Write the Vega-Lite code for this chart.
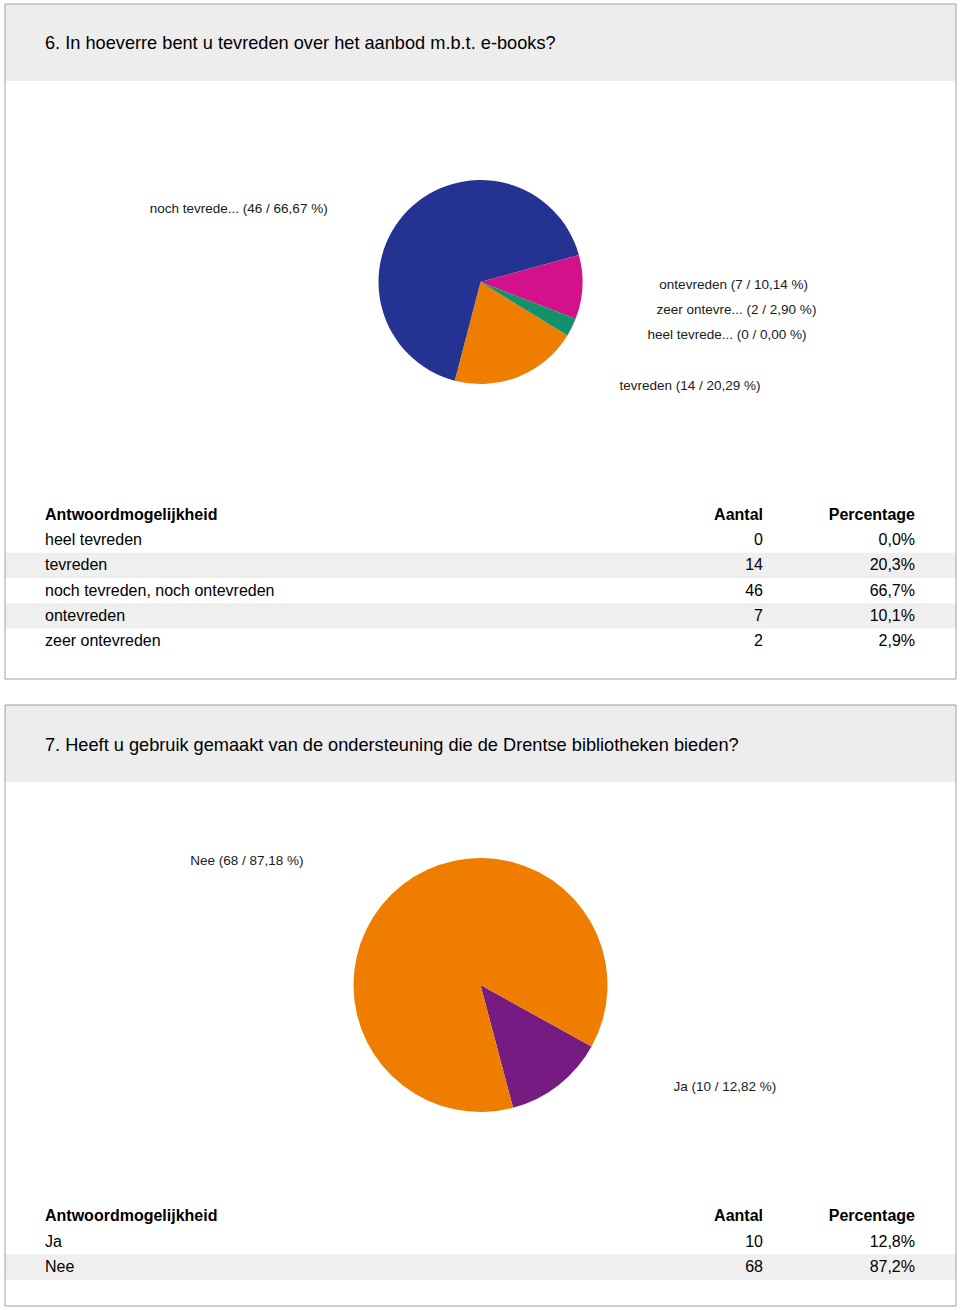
{
  "$schema": "https://vega.github.io/schema/vega-lite/v6.json",
  "padding": {"left": 4, "top": 3, "right": 0, "bottom": 0},
  "background": "white",
  "config": {"view": {"stroke": null}, "font": "Liberation Sans", "text": {"font": "Liberation Sans"}},
  "datasets": {
    "q6": [
      {"row": 1, "antwoord": "heel tevreden", "aantal": 0, "percentage": "0,0%", "pielabel": "heel tevrede... (0 / 0,00 %)"},
      {"row": 2, "antwoord": "tevreden", "aantal": 14, "percentage": "20,3%", "pielabel": "tevreden (14 / 20,29 %)"},
      {"row": 3, "antwoord": "noch tevreden, noch ontevreden", "aantal": 46, "percentage": "66,7%", "pielabel": "noch tevrede... (46 / 66,67 %)"},
      {"row": 4, "antwoord": "ontevreden", "aantal": 7, "percentage": "10,1%", "pielabel": "ontevreden (7 / 10,14 %)"},
      {"row": 5, "antwoord": "zeer ontevreden", "aantal": 2, "percentage": "2,9%", "pielabel": "zeer ontevre... (2 / 2,90 %)"}
    ],
    "q7": [
      {"row": 1, "antwoord": "Ja", "aantal": 10, "percentage": "12,8%", "pielabel": "Ja (10 / 12,82 %)"},
      {"row": 2, "antwoord": "Nee", "aantal": 68, "percentage": "87,2%", "pielabel": "Nee (68 / 87,18 %)"}
    ],
    "header": [{"row": 0, "antwoord": "Antwoordmogelijkheid", "aantal": "Aantal", "percentage": "Percentage"}],
    "one": [{}]
  },
  "spacing": 24,
  "resolve": {"scale": {"color": "independent", "theta": "independent", "y": "independent", "x": "independent"}},
  "vconcat": [
    {
      "spacing": 0,
      "bounds": "flush",
      "resolve": {"scale": {"color": "independent", "theta": "independent", "y": "independent", "x": "independent"}},
      "vconcat": [
        {
          "width": 951, "height": 77,
          "view": {"fill": "#ededed"},
          "data": {"values": [{"t": "6. In hoeverre bent u tevreden over het aanbod m.b.t. e-books?"}]},
          "layer": [
            {"mark": {"type": "text", "align": "left", "baseline": "middle", "fontSize": 18.2, "color": "#000000"},
             "encoding": {"text": {"field": "t", "type": "nominal"}, "x": {"value": 40}, "y": {"value": 40}}},
            {"data": {"name": "one"}, "mark": {"type": "rule", "color": "#a0a0a0"}, "encoding": {"x": {"value": 0}, "y": {"value": 0}, "y2": {"value": "height"}}},
            {"data": {"name": "one"}, "mark": {"type": "rule", "color": "#a0a0a0"}, "encoding": {"x": {"value": "width"}, "y": {"value": 0}, "y2": {"value": "height"}}},
            {"data": {"name": "one"}, "mark": {"type": "rule", "color": "#a0a0a0"}, "encoding": {"x": {"value": 0}, "x2": {"value": "width"}, "y": {"value": 0}}}
          ]
        },
        {
          "width": 951, "height": 402,
          "layer": [
            {"data": {"name": "q6"}, "mark": {"type": "arc", "outerRadius": 102},
             "encoding": {
               "theta": {"field": "aantal", "type": "quantitative", "stack": true, "scale": {"range": [2.122, 8.405]}},
               "order": {"field": "row", "type": "quantitative"},
               "color": {"field": "antwoord", "type": "nominal", "legend": null,
                 "scale": {"domain": ["heel tevreden", "tevreden", "noch tevreden, noch ontevreden", "ontevreden", "zeer ontevreden"],
                           "range": ["#7fa7d6", "#ef7d00", "#243392", "#d3118a", "#12916a"]}}}},
            {"data": {"name": "q6"}, "mark": {"type": "text", "radius": 115, "align": "left", "baseline": "middle", "fontSize": 13.5, "color": "#1a1a1a", "dx": 64, "dy": -3},
             "encoding": {"theta": {"field": "aantal", "type": "quantitative", "stack": true}, "order": {"field": "row", "type": "quantitative"},
               "text": {"condition": {"test": "datum.row == 4", "field": "pielabel", "type": "nominal"}, "value": ""}}},
            {"data": {"name": "q6"}, "mark": {"type": "text", "radius": 115, "align": "left", "baseline": "middle", "fontSize": 13.5, "color": "#1a1a1a", "dx": 73, "dy": -23},
             "encoding": {"theta": {"field": "aantal", "type": "quantitative", "stack": true}, "order": {"field": "row", "type": "quantitative"},
               "text": {"condition": {"test": "datum.row == 5", "field": "pielabel", "type": "nominal"}, "value": ""}}},
            {"data": {"name": "q6"}, "mark": {"type": "text", "radius": 115, "align": "left", "baseline": "middle", "fontSize": 13.5, "color": "#1a1a1a", "dx": 69, "dy": -7},
             "encoding": {"theta": {"field": "aantal", "type": "quantitative", "stack": true}, "order": {"field": "row", "type": "quantitative"},
               "text": {"condition": {"test": "datum.row == 1", "field": "pielabel", "type": "nominal"}, "value": ""}}},
            {"data": {"name": "q6"}, "mark": {"type": "text", "radius": 115, "align": "left", "baseline": "middle", "fontSize": 13.5, "color": "#1a1a1a", "dx": 96, "dy": -3},
             "encoding": {"theta": {"field": "aantal", "type": "quantitative", "stack": true}, "order": {"field": "row", "type": "quantitative"},
               "text": {"condition": {"test": "datum.row == 2", "field": "pielabel", "type": "nominal"}, "value": ""}}},
            {"data": {"name": "q6"}, "mark": {"type": "text", "radius": 115, "align": "right", "baseline": "middle", "fontSize": 13.5, "color": "#1a1a1a", "dx": -71, "dy": 8},
             "encoding": {"theta": {"field": "aantal", "type": "quantitative", "stack": true}, "order": {"field": "row", "type": "quantitative"},
               "text": {"condition": {"test": "datum.row == 3", "field": "pielabel", "type": "nominal"}, "value": ""}}},
            {"data": {"name": "one"}, "mark": {"type": "rule", "color": "#a0a0a0"}, "encoding": {"x": {"value": 0}, "y": {"value": 0}, "y2": {"value": "height"}}},
            {"data": {"name": "one"}, "mark": {"type": "rule", "color": "#a0a0a0"}, "encoding": {"x": {"value": "width"}, "y": {"value": 0}, "y2": {"value": "height"}}}
          ]
        },
        {
          "width": 951, "height": 196,
          "layer": [
            {"data": {"name": "q6"}, "transform": [{"filter": "datum.row % 2 == 0"}], "mark": {"type": "rect", "color": "#efefef"},
             "encoding": {"y": {"field": "row", "type": "ordinal", "axis": null, "scale": {"type": "band", "domain": [0, 1, 2, 3, 4, 5], "range": [19.4, 170.6], "paddingInner": 0, "paddingOuter": 0}}}},
            {"data": {"name": "header"}, "mark": {"type": "text", "align": "left", "baseline": "middle", "fontSize": 16, "fontWeight": "bold", "color": "#000000"},
             "encoding": {"y": {"field": "row", "type": "ordinal", "axis": null}, "x": {"value": 40}, "text": {"field": "antwoord", "type": "nominal"}}},
            {"data": {"name": "header"}, "mark": {"type": "text", "align": "right", "baseline": "middle", "fontSize": 16, "fontWeight": "bold", "color": "#000000"},
             "encoding": {"y": {"field": "row", "type": "ordinal", "axis": null}, "x": {"value": 758}, "text": {"field": "aantal", "type": "nominal"}}},
            {"data": {"name": "header"}, "mark": {"type": "text", "align": "right", "baseline": "middle", "fontSize": 16, "fontWeight": "bold", "color": "#000000"},
             "encoding": {"y": {"field": "row", "type": "ordinal", "axis": null}, "x": {"value": 910}, "text": {"field": "percentage", "type": "nominal"}}},
            {"data": {"name": "q6"}, "mark": {"type": "text", "align": "left", "baseline": "middle", "fontSize": 16, "color": "#000000"},
             "encoding": {"y": {"field": "row", "type": "ordinal", "axis": null}, "x": {"value": 40}, "text": {"field": "antwoord", "type": "nominal"}}},
            {"data": {"name": "q6"}, "mark": {"type": "text", "align": "right", "baseline": "middle", "fontSize": 16, "color": "#000000"},
             "encoding": {"y": {"field": "row", "type": "ordinal", "axis": null}, "x": {"value": 758}, "text": {"field": "aantal", "type": "nominal"}}},
            {"data": {"name": "q6"}, "mark": {"type": "text", "align": "right", "baseline": "middle", "fontSize": 16, "color": "#000000"},
             "encoding": {"y": {"field": "row", "type": "ordinal", "axis": null}, "x": {"value": 910}, "text": {"field": "percentage", "type": "nominal"}}},
            {"data": {"name": "one"}, "mark": {"type": "rule", "color": "#a0a0a0"}, "encoding": {"x": {"value": 0}, "y": {"value": 0}, "y2": {"value": "height"}}},
            {"data": {"name": "one"}, "mark": {"type": "rule", "color": "#a0a0a0"}, "encoding": {"x": {"value": "width"}, "y": {"value": 0}, "y2": {"value": "height"}}},
            {"data": {"name": "one"}, "mark": {"type": "rule", "color": "#a0a0a0"}, "encoding": {"x": {"value": 0}, "x2": {"value": "width"}, "y": {"value": "height"}}}
          ]
        }
      ]
    },
    {
      "spacing": 0,
      "bounds": "flush",
      "resolve": {"scale": {"color": "independent", "theta": "independent", "y": "independent", "x": "independent"}},
      "vconcat": [
        {
          "width": 951, "height": 77,
          "view": {"fill": "#ededed"},
          "data": {"values": [{"t": "7. Heeft u gebruik gemaakt van de ondersteuning die de Drentse bibliotheken bieden?"}]},
          "layer": [
            {"mark": {"type": "text", "align": "left", "baseline": "middle", "fontSize": 18.2, "color": "#000000"},
             "encoding": {"text": {"field": "t", "type": "nominal"}, "x": {"value": 40}, "y": {"value": 41}}},
            {"data": {"name": "one"}, "mark": {"type": "rule", "color": "#a0a0a0"}, "encoding": {"x": {"value": 0}, "y": {"value": 0}, "y2": {"value": "height"}}},
            {"data": {"name": "one"}, "mark": {"type": "rule", "color": "#a0a0a0"}, "encoding": {"x": {"value": "width"}, "y": {"value": 0}, "y2": {"value": "height"}}},
            {"data": {"name": "one"}, "mark": {"type": "rule", "color": "#a0a0a0"}, "encoding": {"x": {"value": 0}, "x2": {"value": "width"}, "y": {"value": 0}}}
          ]
        },
        {
          "width": 951, "height": 406,
          "layer": [
            {"data": {"name": "q7"}, "mark": {"type": "arc", "outerRadius": 127},
             "encoding": {
               "theta": {"field": "aantal", "type": "quantitative", "stack": true, "scale": {"range": [2.077, 8.360]}},
               "order": {"field": "row", "type": "quantitative"},
               "color": {"field": "antwoord", "type": "nominal", "legend": null,
                 "scale": {"domain": ["Ja", "Nee"], "range": ["#761b82", "#ef7d00"]}}}},
            {"data": {"name": "q7"}, "mark": {"type": "text", "radius": 135, "align": "left", "baseline": "middle", "fontSize": 13.5, "color": "#1a1a1a", "dx": 110, "dy": -4},
             "encoding": {"theta": {"field": "aantal", "type": "quantitative", "stack": true}, "order": {"field": "row", "type": "quantitative"},
               "text": {"condition": {"test": "datum.row == 1", "field": "pielabel", "type": "nominal"}, "value": ""}}},
            {"data": {"name": "q7"}, "mark": {"type": "text", "radius": 135, "align": "right", "baseline": "middle", "fontSize": 13.5, "color": "#1a1a1a", "dx": -94, "dy": -18},
             "encoding": {"theta": {"field": "aantal", "type": "quantitative", "stack": true}, "order": {"field": "row", "type": "quantitative"},
               "text": {"condition": {"test": "datum.row == 2", "field": "pielabel", "type": "nominal"}, "value": ""}}},
            {"data": {"name": "one"}, "mark": {"type": "rule", "color": "#a0a0a0"}, "encoding": {"x": {"value": 0}, "y": {"value": 0}, "y2": {"value": "height"}}},
            {"data": {"name": "one"}, "mark": {"type": "rule", "color": "#a0a0a0"}, "encoding": {"x": {"value": "width"}, "y": {"value": 0}, "y2": {"value": "height"}}}
          ]
        },
        {
          "width": 951, "height": 118,
          "layer": [
            {"data": {"name": "q7"}, "transform": [{"filter": "datum.row % 2 == 0"}], "mark": {"type": "rect", "color": "#efefef"},
             "encoding": {"y": {"field": "row", "type": "ordinal", "axis": null, "scale": {"type": "band", "domain": [0, 1, 2], "range": [15.25, 91.75], "paddingInner": 0, "paddingOuter": 0}}}},
            {"data": {"name": "header"}, "mark": {"type": "text", "align": "left", "baseline": "middle", "fontSize": 16, "fontWeight": "bold", "color": "#000000"},
             "encoding": {"y": {"field": "row", "type": "ordinal", "axis": null}, "x": {"value": 40}, "text": {"field": "antwoord", "type": "nominal"}}},
            {"data": {"name": "header"}, "mark": {"type": "text", "align": "right", "baseline": "middle", "fontSize": 16, "fontWeight": "bold", "color": "#000000"},
             "encoding": {"y": {"field": "row", "type": "ordinal", "axis": null}, "x": {"value": 758}, "text": {"field": "aantal", "type": "nominal"}}},
            {"data": {"name": "header"}, "mark": {"type": "text", "align": "right", "baseline": "middle", "fontSize": 16, "fontWeight": "bold", "color": "#000000"},
             "encoding": {"y": {"field": "row", "type": "ordinal", "axis": null}, "x": {"value": 910}, "text": {"field": "percentage", "type": "nominal"}}},
            {"data": {"name": "q7"}, "mark": {"type": "text", "align": "left", "baseline": "middle", "fontSize": 16, "color": "#000000"},
             "encoding": {"y": {"field": "row", "type": "ordinal", "axis": null}, "x": {"value": 40}, "text": {"field": "antwoord", "type": "nominal"}}},
            {"data": {"name": "q7"}, "mark": {"type": "text", "align": "right", "baseline": "middle", "fontSize": 16, "color": "#000000"},
             "encoding": {"y": {"field": "row", "type": "ordinal", "axis": null}, "x": {"value": 758}, "text": {"field": "aantal", "type": "nominal"}}},
            {"data": {"name": "q7"}, "mark": {"type": "text", "align": "right", "baseline": "middle", "fontSize": 16, "color": "#000000"},
             "encoding": {"y": {"field": "row", "type": "ordinal", "axis": null}, "x": {"value": 910}, "text": {"field": "percentage", "type": "nominal"}}},
            {"data": {"name": "one"}, "mark": {"type": "rule", "color": "#a0a0a0"}, "encoding": {"x": {"value": 0}, "y": {"value": 0}, "y2": {"value": "height"}}},
            {"data": {"name": "one"}, "mark": {"type": "rule", "color": "#a0a0a0"}, "encoding": {"x": {"value": "width"}, "y": {"value": 0}, "y2": {"value": "height"}}},
            {"data": {"name": "one"}, "mark": {"type": "rule", "color": "#a0a0a0"}, "encoding": {"x": {"value": 0}, "x2": {"value": "width"}, "y": {"value": "height"}}}
          ]
        }
      ]
    }
  ]
}
